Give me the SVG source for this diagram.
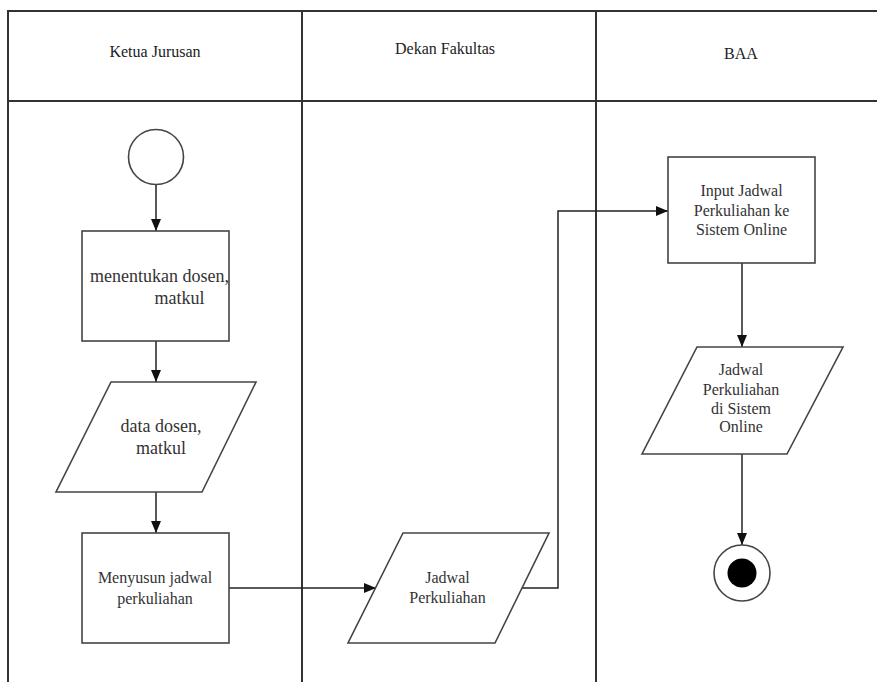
<svg xmlns="http://www.w3.org/2000/svg" width="877" height="682" viewBox="0 0 877 682">
  <style>
    .lane { fill: none; stroke: #333; stroke-width: 2; }
    .shape { fill: #fff; stroke: #444; stroke-width: 1.6; }
    .conn { fill: none; stroke: #222; stroke-width: 1.5; marker-end: url(#arrow); }
    text { font-family: 'Liberation Serif', 'Times New Roman', Times, 'DejaVu Serif', serif; text-anchor: middle; }
    .hdr { font-size: 16px; fill: #222; }
    .lbl { font-size: 16px; fill: #333; }
    .big { font-size: 18px; }
  </style>
  <defs>
    <marker id="arrow" markerUnits="userSpaceOnUse" markerWidth="12" markerHeight="12" viewBox="0 0 12 12" refX="12" refY="6" orient="auto">
      <path d="M0,1 L12,6 L0,11 Z" fill="#111"/>
    </marker>
  </defs>
  <rect width="877" height="682" fill="#fff"/>

  <!-- swimlane frame -->
  <g id="lanes">
    <path class="lane" d="M8,682 V11 H877"/>
    <path class="lane" d="M8,101 H877"/>
    <path class="lane" d="M302,11 V682"/>
    <path class="lane" d="M596,11 V682"/>
    <text class="hdr" x="155" y="57">Ketua Jurusan</text>
    <text class="hdr" x="445" y="54">Dekan Fakultas</text>
    <text class="hdr" x="741" y="59">BAA</text>
  </g>

  <!-- connectors -->
  <g id="connectors">
    <path class="conn" d="M156,185 V231"/>
    <path class="conn" d="M156,341 V382"/>
    <path class="conn" d="M156,492 V533"/>
    <path class="conn" d="M229,588 H376"/>
    <path class="conn" d="M522,588 H558 V211 H668"/>
    <path class="conn" d="M742,263 V347"/>
    <path class="conn" d="M742,454 V545"/>
  </g>

  <g id="start">
    <circle class="shape" cx="156" cy="157" r="27.5"/>
  </g>

  <g id="menentukan">
    <rect class="shape" x="82" y="231" width="147" height="110"/>
    <text class="lbl big" x="159.5" y="282">menentukan dosen,</text>
    <text class="lbl big" x="179.5" y="304">matkul</text>
  </g>

  <g id="data-dosen">
    <polygon class="shape" points="111,382 256,382 202,492 56,492"/>
    <text class="lbl big" x="161" y="432">data dosen,</text>
    <text class="lbl big" x="161" y="454">matkul</text>
  </g>

  <g id="menyusun">
    <rect class="shape" x="82" y="533" width="147" height="110"/>
    <text class="lbl" x="155" y="583">Menyusun jadwal</text>
    <text class="lbl" x="155" y="604">perkuliahan</text>
  </g>

  <g id="jadwal">
    <polygon class="shape" points="403,533 549,533 495,643 348,643"/>
    <text class="lbl" x="447.5" y="583">Jadwal</text>
    <text class="lbl" x="447.5" y="603">Perkuliahan</text>
  </g>

  <g id="input-jadwal">
    <rect class="shape" x="668" y="157" width="147" height="106"/>
    <text class="lbl" x="741.5" y="196">Input Jadwal</text>
    <text class="lbl" x="741.5" y="216">Perkuliahan ke</text>
    <text class="lbl" x="741.5" y="235">Sistem Online</text>
  </g>

  <g id="jadwal-online">
    <polygon class="shape" points="697,347 843,347 787,454 642,454"/>
    <text class="lbl" x="741" y="375">Jadwal</text>
    <text class="lbl" x="741" y="395">Perkuliahan</text>
    <text class="lbl" x="741" y="414">di Sistem</text>
    <text class="lbl" x="741" y="432">Online</text>
  </g>

  <g id="end">
    <circle class="shape" cx="742" cy="573" r="28"/>
    <circle cx="742" cy="573" r="14.5" fill="#000"/>
  </g>
</svg>
